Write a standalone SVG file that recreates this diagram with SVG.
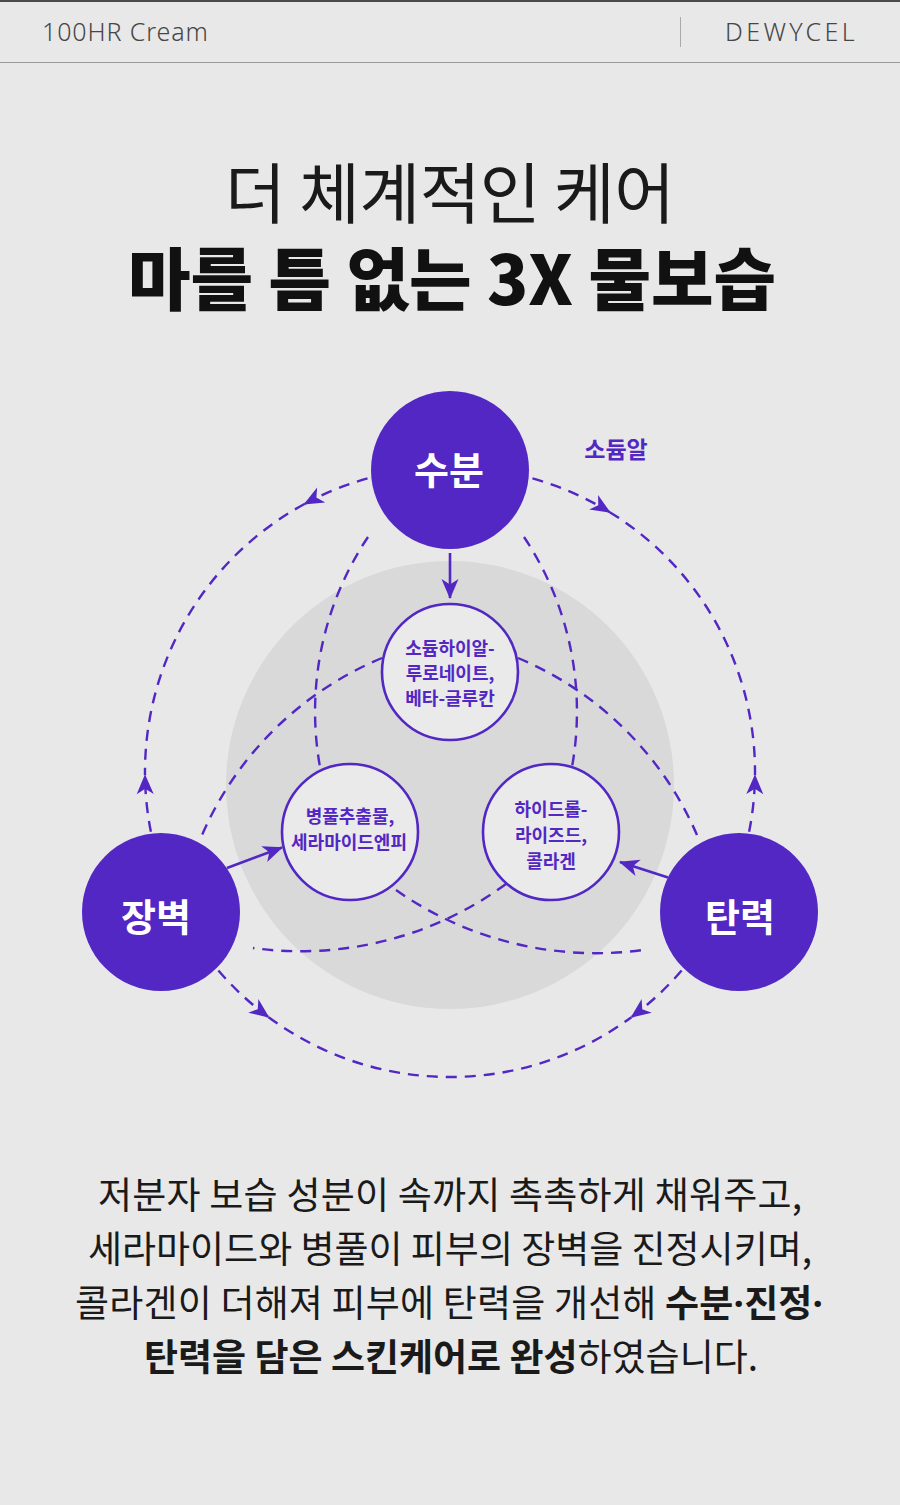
<svg xmlns="http://www.w3.org/2000/svg" width="900" height="1505" viewBox="0 0 900 1505">
<defs>
<style>
.k{font-family:"Noto Sans CJK KR","Noto Sans",sans-serif}
.hdr{font-family:"Noto Sans","Liberation Sans",sans-serif;font-size:25px;font-weight:300;fill:#464646}
.dash{fill:none;stroke:#5227c3;stroke-width:2.4;stroke-dasharray:11 8}
.solid{fill:none;stroke:#5227c3;stroke-width:2.6}
.big{fill:#5227c3}
.small{fill:#eaeaea;stroke:#5227c3;stroke-width:2.6}
.bl{font-size:38px;font-weight:700;fill:#fff;text-anchor:middle}
.sl{font-size:18px;font-weight:700;fill:#5227c3;text-anchor:middle}
.para{font-size:37px;fill:#1a1a1a;text-anchor:middle}
.dot{font-family:"Noto Sans","Liberation Sans",sans-serif}
</style>
<marker id="ah" viewBox="-22 -10 24 20" markerWidth="24" markerHeight="20" refX="0" refY="0" orient="auto" markerUnits="userSpaceOnUse">
<path d="M1,0 L-19,-8.5 L-13.5,0 L-19,8.5 Z" fill="#5227c3"/>
</marker>
</defs>
<rect width="900" height="1505" fill="#e8e8e8"/>
<rect width="900" height="2" fill="#4a4a4a"/>
<g id="header">
<text class="hdr" x="42" y="40.5" letter-spacing="0.9">100HR Cream</text>
<line x1="680.5" y1="17" x2="680.5" y2="47" stroke="#aaa" stroke-width="1"/>
<text class="hdr" x="725" y="40.5" letter-spacing="3.4">DEWYCEL</text>
<line x1="0" y1="62.5" x2="900" y2="62.5" stroke="#999" stroke-width="1"/>
</g>
<g id="title" class="k">
<text x="450" y="218" font-size="66" font-weight="400" fill="#1a1a1a" text-anchor="middle" textLength="450" lengthAdjust="spacing">더 체계적인 케어</text>
<text x="452" y="305" font-size="68" font-weight="900" fill="#111" text-anchor="middle" textLength="648" lengthAdjust="spacing">마를 틈 없는 3X 물보습</text>
</g>
<circle id="base-disk" cx="450" cy="785" r="224" fill="#d9d9d9"/>
<g id="connectors">
<path class="dash" d="M367.5,478.4 A305,305 0 0 0 304.5,504" marker-end="url(#ah)"/>
<path class="dash" d="M304.5,504 A305,305 0 0 0 145,775.2"/>
<path class="dash" d="M150.9,831.8 A305,305 0 0 1 145,775.2" marker-end="url(#ah)"/>
<path class="dash" d="M218.4,970.5 A305,305 0 0 0 268.6,1017.2" marker-end="url(#ah)"/>
<path class="dash" d="M268.6,1017.2 A305,305 0 0 0 631.4,1017.2"/>
<path class="dash" d="M681.6,970.5 A305,305 0 0 1 631.4,1017.2" marker-end="url(#ah)"/>
<path class="dash" d="M532.5,478.4 A305,305 0 0 1 609.8,512.2" marker-end="url(#ah)"/>
<path class="dash" d="M609.8,512.2 A305,305 0 0 1 755,775.2"/>
<path class="dash" d="M749.1,831.8 A305,305 0 0 0 755,775.2" marker-end="url(#ah)"/>
<path class="dash" d="M368,537 A314,314 0 0 0 320,767"/>
<path class="dash" d="M524,537 A314,314 0 0 1 572,767"/>
<path class="dash" d="M382,658 A337,337 0 0 0 202,835"/>
<path class="dash" d="M518,658 A337,337 0 0 1 697,835"/>
<path class="dash" d="M396,890 A348,348 0 0 0 643,950"/>
<path class="dash" d="M506,884 A348,348 0 0 1 253,948"/>
<path class="solid" d="M450,553 L450,598" marker-end="url(#ah)"/>
<path class="solid" d="M227,868 L282,847.5" marker-end="url(#ah)"/>
<path class="solid" d="M668,877.5 L620,862" marker-end="url(#ah)"/>
</g>
<g id="node-moisture" class="k">
<circle class="big" cx="450" cy="470" r="79"/>
<text class="bl" x="449" y="484">수분</text>
</g>
<g id="node-barrier" class="k">
<circle class="big" cx="161" cy="912" r="79"/>
<text class="bl" x="156" y="931">장벽</text>
</g>
<g id="node-elasticity" class="k">
<circle class="big" cx="739" cy="912" r="79"/>
<text class="bl" x="740" y="931">탄력</text>
</g>
<g id="node-hyaluronate" class="k">
<circle class="small" cx="450" cy="672" r="68"/>
<text class="sl" x="450" y="655">소듐하이알-</text>
<text class="sl" x="450" y="680">루로네이트,</text>
<text class="sl" x="450" y="705">베타-글루칸</text>
</g>
<g id="node-centella" class="k">
<circle class="small" cx="350" cy="832" r="68"/>
<text class="sl" x="350" y="823">병풀추출물,</text>
<text class="sl" x="349" y="849">세라마이드엔피</text>
</g>
<g id="node-collagen" class="k">
<circle class="small" cx="551" cy="832" r="68"/>
<text class="sl" x="551" y="816">하이드롤-</text>
<text class="sl" x="551" y="842">라이즈드,</text>
<text class="sl" x="551" y="868">콜라겐</text>
</g>
<g id="label-sodium" class="k">
<text x="616" y="458" font-size="23" font-weight="700" fill="#5227c3" text-anchor="middle">소듐알</text>
</g>
<g id="paragraph" class="k">
<text class="para" x="450" y="1209" textLength="704" lengthAdjust="spacing">저분자 보습 성분이 속까지 촉촉하게 채워주고,</text>
<text class="para" x="450" y="1263" textLength="724" lengthAdjust="spacing">세라마이드와 병풀이 피부의 장벽을 진정시키며,</text>
<text class="para" x="449" y="1317" textLength="748" lengthAdjust="spacing">콜라겐이 더해져 피부에 탄력을 개선해 <tspan font-weight="700">수분<tspan class="dot">·</tspan>진정<tspan class="dot">·</tspan></tspan></text>
<text class="para" x="451" y="1371" textLength="614" lengthAdjust="spacing"><tspan font-weight="700">탄력을 담은 스킨케어로 완성</tspan>하였습니다.</text>
</g>
</svg>
